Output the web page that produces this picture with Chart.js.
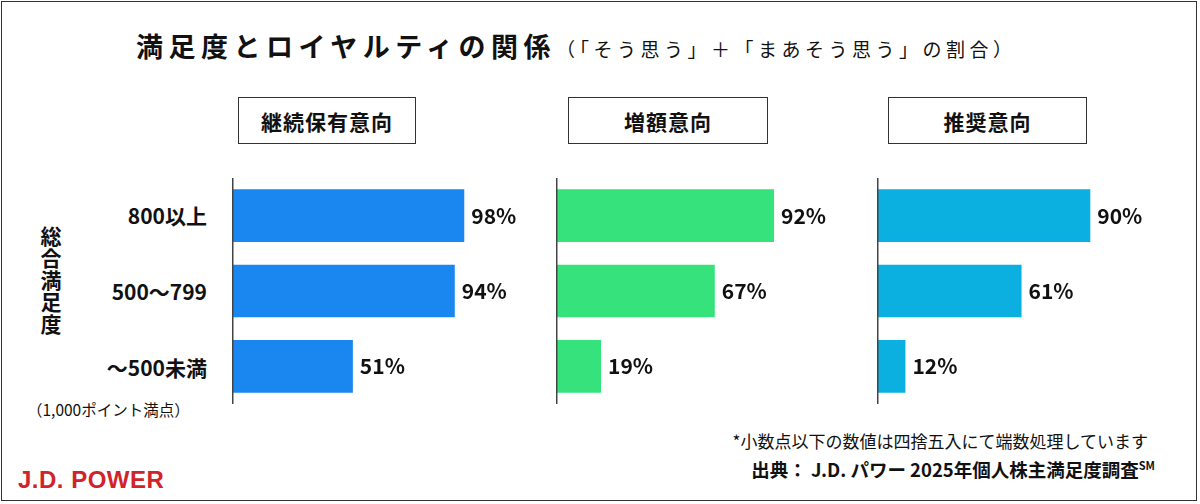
<!DOCTYPE html>
<html><head><meta charset="utf-8">
<script src="https://cdn.jsdelivr.net/npm/chart.js@4/dist/chart.umd.min.js"></script>
<style>
body{margin:0;width:1200px;height:504px;overflow:hidden;background:#fff;font-family:"Noto Sans CJK JP","Noto Sans",sans-serif;color:#111}
#frame{position:absolute;left:1px;top:1px;width:1196px;height:500px;border:1px solid #333;box-sizing:border-box}
.t{position:absolute;white-space:nowrap;font-weight:bold}
.box{position:absolute;border:1.5px solid #333;box-sizing:border-box;display:flex;align-items:center;justify-content:center;font-weight:bold;font-size:21px;letter-spacing:1px}
.cv{position:absolute;top:178px}
.lab{position:absolute;right:993px;font-size:21px;font-weight:bold;transform:translateY(-50%)}
</style></head><body>
<div id="frame"></div>
<div class="t" style="left:136px;top:26px;font-size:27px;letter-spacing:5.5px">満足度とロイヤルティの関係<span style="font-size:19px;font-weight:normal;letter-spacing:4.5px">（「そう思う」＋「まあそう思う」の割合）</span></div>
<div class="box" style="left:238px;top:97px;width:178px;height:47px">継続保有意向</div>
<div class="box" style="left:568px;top:97px;width:200px;height:47px">増額意向</div>
<div class="box" style="left:888px;top:97px;width:199px;height:47px">推奨意向</div>
<div class="lab" style="top:215px">800以上</div>
<div class="lab" style="top:291px">500～799</div>
<div class="lab" style="top:367px">～500未満</div>
<div class="t" style="left:36px;top:226px;font-size:21px;writing-mode:vertical-rl;letter-spacing:1px">総合満足度</div>
<div class="t" style="left:27px;top:398px;font-size:15.5px;font-weight:normal">（1,000ポイント満点）</div>
<div class="t" style="right:52px;top:428px;font-size:17px;font-weight:normal">*小数点以下の数値は四捨五入にて端数処理しています</div>
<div class="t" style="right:45px;top:456px;font-size:18.5px">出典：  J.D. パワー 2025年個人株主満足度調査<sup style="font-size:11px">SM</sup></div>
<div class="t" style="left:18px;top:466px;font-size:24px;color:#d0232a;font-family:'Liberation Sans',sans-serif;letter-spacing:0.5px">J.D. POWER</div>
<canvas id="c1" class="cv" style="left:231px" width="310" height="226"></canvas>
<canvas id="c2" class="cv" style="left:555px" width="310" height="226"></canvas>
<canvas id="c3" class="cv" style="left:876px" width="310" height="226"></canvas>
<script>
const categories=["800以上","500～799","～500未満"];
const retention=[98,94,51];
const increase=[92,67,19];
const recommend=[90,61,12];
const colors=["#1a86f0","#35e27c","#0bafe0"];
const plug={id:'p',afterDatasetsDraw(ch){const c=ch.ctx,a=ch.chartArea;
 c.save();c.strokeStyle='#444';c.lineWidth=1.5;c.beginPath();c.moveTo(a.left+0.75,a.top);c.lineTo(a.left+0.75,a.bottom);c.stroke();
 c.fillStyle='#111';c.font='bold 21px "Noto Sans CJK JP","Noto Sans",sans-serif';c.textBaseline='middle';
 ch.getDatasetMeta(0).data.forEach((b,i)=>c.fillText(ch.data.datasets[0].data[i]+'%',b.x+7,b.y));c.restore();}};
function mk(id,data,col){new Chart(document.getElementById(id),{type:'bar',
 data:{labels:categories,datasets:[{data:data,backgroundColor:col,barPercentage:0.7,categoryPercentage:1}]},
 options:{indexAxis:'y',responsive:false,animation:false,layout:{padding:{left:1,right:72}},
  plugins:{legend:{display:false},tooltip:{enabled:false}},
  scales:{x:{display:false,min:0,max:100},y:{display:false}}},plugins:[plug]});}
mk('c1',retention,colors[0]);mk('c2',increase,colors[1]);mk('c3',recommend,colors[2]);
</script></body></html>
